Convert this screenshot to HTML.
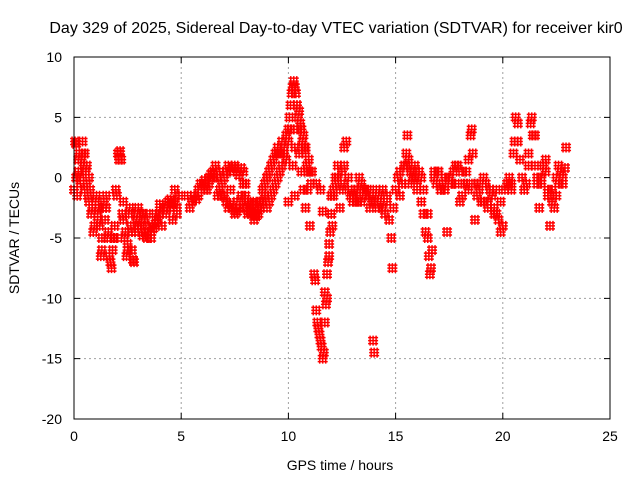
<!DOCTYPE html>
<html><head><meta charset="utf-8"><style>
body{margin:0;background:#fff;}
svg{display:block;font-family:"Liberation Sans",sans-serif;}
</style></head><body>
<svg id="chart" width="640" height="480">
<text x="336" y="33" text-anchor="middle" font-size="16">Day 329 of 2025, Sidereal Day-to-day VTEC variation (SDTVAR) for receiver kir0</text>
<text x="340" y="470" text-anchor="middle" font-size="14">GPS time / hours</text>
<text transform="translate(19,238) rotate(-90)" text-anchor="middle" font-size="14">SDTVAR / TECUs</text>
<g id="grid"></g><g id="marks"></g>
<rect x="74" y="57" width="536" height="362" fill="none" stroke="#000" stroke-width="1"/>
</svg>
<script>
const xTicks=[0,5,10,15,20,25];
const yTicks=[10,5,0,-5,-10,-15,-20];
const hours=[0,0.05,0.1,0.15,0.2,0.25,0.3,0.35,0.4,0.45,0.5,0.55,0.6,0.65,0.7,0.75,0.8,0.85,0.9,0.95,1.0,1.05,1.1,1.15,1.2,1.25,1.3,1.35,1.4,1.45,1.5,1.55,1.6,1.65,1.7,1.75,1.8,1.85,1.9,1.95,2.0,2.05,2.1,2.15,2.2,2.25,2.3,2.35,2.4,2.45,2.5,2.55,2.6,2.65,2.7,2.75,2.8,2.85,2.9,2.95,3.0,3.1,3.2,3.3,3.4,3.5,3.6,3.7,3.8,3.9,4.0,4.1,4.2,4.3,4.4,4.5,4.6,4.7,4.8,4.9,
5.5,5.6,5.7,5.8,5.9,6.0,6.1,6.2,6.3,6.4,6.5,6.6,6.7,6.8,6.9,7.0,7.1,7.2,7.3,7.4,7.5,7.6,7.7,7.8,7.9,8.0,
6.8,6.9,7.0,7.1,7.2,7.3,7.4,7.5,7.6,7.7,7.8,7.9,8.0,8.1,8.2,8.3,8.4,8.5,8.6,8.7,8.8,8.9,9.0,9.1,9.2,9.3,9.4,9.5,9.6,9.7,9.8,9.9,10.0,
8.0,8.1,8.2,8.3,8.4,8.5,8.6,8.7,8.8,8.9,9.0,9.1,9.2,9.3,9.4,9.5,9.6,9.7,9.8,9.9,10.0,10.05,10.1,10.15,10.2,10.25,10.3,10.35,10.4,10.45,10.5,10.55,10.6,10.65,10.7,10.75,10.8,10.85,10.9,10.95,11.0,11.05,11.1,
10.2,10.3,10.4,10.5,10.6,10.7,10.8,10.9,11.0,11.2,11.25,11.3,11.35,11.4,11.45,11.5,11.55,11.6,11.65,11.7,11.75,11.8,11.85,11.9,11.95,12.0,12.05,12.1,
11.6,11.7,11.8,11.9,12.0,12.1,12.2,12.3,12.4,12.5,12.6,12.7,12.8,12.9,13.0,13.1,13.2,13.3,13.4,13.5,13.6,13.7,13.8,13.9,14.0,14.1,14.2,14.3,14.4,14.5,14.6,14.7,14.8,14.85,14.9,13.95,14.0,
15.0,15.1,15.2,15.3,15.4,15.5,15.55,15.6,15.7,15.8,15.9,16.0,16.1,16.2,16.3,16.4,16.5,16.55,16.6,16.65,16.7,16.8,16.9,17.0,17.1,17.2,17.3,17.4,17.5,17.6,17.7,17.8,17.9,18.0,18.1,18.2,18.3,18.4,18.5,18.55,18.6,18.7,18.8,18.9,19.0,19.1,19.2,19.3,19.4,19.5,19.6,19.7,19.8,19.9,20.0,
20.1,20.2,20.3,20.4,20.5,20.55,20.6,20.7,20.8,20.9,21.0,21.1,21.2,21.3,21.35,21.4,21.5,21.6,21.7,21.8,21.9,22.0,22.1,22.2,22.3,22.4,22.5,22.6,22.7,22.8,22.9,22.95,
15.2,15.6,15.9,16.2,16.5,17.0,17.3,17.8,18.3,18.7,19.3,19.7,20.4,21.0,21.6,22.1,22.6,10.0,10.3,11.3,11.5,12.3,12.6,13.2,19.9,
0.1,0.2,0.3,0.4,0.5,0.6,0.7,1.1,1.3,1.5,1.9,2.3,2.5,2.7,3.0,3.2,3.4,3.6,3.8,4.0,4.2,4.4,4.6,4.8,4.7,4.5,3.9,3.3,
5.3,5.4,5.8,6.1,6.3,6.5,6.7,7.0,7.3,7.6,7.9,8.2,8.5,8.8,9.0,9.2,9.5,9.8,10.1,10.4,10.6,10.8,
12.0,12.2,12.4,12.6,12.8,13.0,13.2,13.4,13.6,13.8,14.0,14.2,14.4,14.6,
15.3,15.5,15.7,16.0,16.3,16.8,17.1,17.6,18.1,18.4,18.8,19.1,19.4,19.6,20.3,20.7,21.2,21.5,21.8,22.0,22.3,22.5,22.8];
const values=[-1,3,2.8,-1.5,0.5,2,-0.5,1.5,3,1,2,0.5,-0.5,-1.5,-2,-1,-3,-2.5,-4.5,-4,-2,-1.5,-3,-2.5,-4,-6.5,-6,-2.5,-2,-3.5,-1.5,-5,-4.5,-6.5,-7,-7.5,-6,-5,-4,-1,-1.5,2,1.5,2.2,1.5,-3,-3.5,-5,-4.5,-6.5,-6,-3,-2.5,-4,-6,-6.8,-7,-4.5,-3.5,-3,-2.5,-4,-4.8,-3.5,-5,-4,-4.5,-4.2,-3,-3.5,-2.2,-4,-2.5,-3,-2,-1.8,-3.5,-1,-2.5,-1.5,
-2,-1.5,-1.8,-1,-0.5,-0.5,-0.2,-1,0,0.3,0.5,1,0,0.5,-0.5,0,0.5,1,0.5,0.8,1,0.5,0.2,0.8,0.5,-0.5,
-1,-1.5,-1.5,-2,-2.5,-2.2,-2.5,-3,-2.8,-2.5,-1.5,-0.5,-2,-3,-2.8,-3,-3.5,-3.2,-3,-2.5,-2,-1.5,-2.5,-2,-1.5,-1,-0.5,0,0.5,1,2,1.5,3,
-1.5,-2,-2.5,-2.2,-3,-3,-2.5,-2,-1,-0.5,0,0.5,1,1.5,2,2.5,2,3,2.5,3.5,4,5,6,7,7.5,8,7.5,7,6,5,5.5,4.5,4,3,3.5,2.5,2,1,0.5,1.5,0.5,-0.5,0.5,
1,2.5,4,2,0.5,-1,-2.5,-1,-4,-8,-8.5,-11,-12,-12.5,-13,-13.5,-14,-15,-14.5,-12,-10.5,-8,-7,-5.5,-4.5,-3,-4,-1,
-2.8,-9.5,-10,-6.5,-3,-1.5,0,1,-1,0.5,2.5,3,0,-1.5,-2,-1,-1.5,0,-0.5,-1,-1.5,-1,-2.5,-2,-2,-1,-1.5,-2,-2.5,-3,-1.5,-3.5,-5,-7.5,-2.5,-13.5,-14.5,
-1,0,0.5,-0.5,1,2,3.5,1.5,0.5,0,1,-0.5,0.5,0,-3,-4.5,-5,-6.5,-8,-7.5,-6,0,-0.5,0.5,-1,-0.5,0,-4.5,0,-0.5,0.5,-0.5,1,-2,-1.5,-0.5,0.5,1.5,3.5,4,2,-0.5,-1.5,-1,-2,0,-0.5,-2.5,-1,-1.5,-2.5,-3,-3.5,-4.5,-4,
-1,-0.5,0,-1,2,3,5,4.5,1.5,0,-1,-0.5,2,4.5,5,3.5,1,-0.5,-2.5,-0.5,1,1.5,-1.5,-4,-1,-2.5,0,1,0.5,-0.5,0.8,2.5,
-1.5,-0.5,0,-2,-3,0.5,-1,1,-0.5,-3.5,-2,-1,-0.5,-1,0,-1,-0.5,-2,-1.5,-0.5,-1,0,-0.5,-1,-2,
0,1.5,0,2,-1,1,0,-3.5,-5,-2.5,-5,-2,-5.5,-4.5,-4,-3,-3,-5,-3.8,-3,-2.5,-2,-2.2,-3,-2,-2.5,-3.5,-4.5,
-1.5,-2.5,-1.5,-1,-0.5,0,-1.5,-1.5,-1,-2,-2.5,-2.5,-2,-1,0,1,2,2,4,6,4,2.5,
-1.5,-0.5,-2.5,1,-1,-1.5,-2,-2,-1,-1.5,-2,-2.5,-1,-2,
-0.5,1,0.5,-1,-1,0.5,-1,-0.5,0.5,-1,-0.5,-2,-1,-3,-0.5,3,1,3.5,0,0.5,-2,-1.5,0];
const X0=74,X1=610,Y0=419,Y1=57;
function xs(h){return X0+(h-0)/(25-0)*(X1-X0);}
function ys(v){return Y0-(v+20)/(10+20)*(Y0-Y1);}
const NS='http://www.w3.org/2000/svg';
const svg=document.getElementById('chart');
const grid=document.getElementById('grid');
const marks=document.getElementById('marks');
function mk(tag,at,parent){const e=document.createElementNS(NS,tag);for(const k in at)e.setAttribute(k,at[k]);parent.appendChild(e);return e;}
xTicks.forEach(t=>{
  const x=xs(t);
  if(t>0&&t<25){const g=mk('line',{x1:x,x2:x,y1:Y1,y2:Y0,stroke:'#a0a0a0','stroke-dasharray':'2,3'},grid);
  
  }
  const tk=mk('path',{d:`M${x},${Y0}v-6M${x},${Y1}v6`,stroke:'#000'},grid);
  
  
  const l=mk('text',{x:x,y:Y0+22,'text-anchor':'middle','font-size':14},svg);
  l.textContent=t;
  
  
});
yTicks.forEach(t=>{
  const y=ys(t);
  if(t>-20&&t<10){const g=mk('line',{x1:X0,x2:X1,y1:y,y2:y,stroke:'#a0a0a0','stroke-dasharray':'2,3'},grid);
  
  }
  const tk=mk('path',{d:`M${X0},${y}h6M${X1},${y}h-6`,stroke:'#000'},grid);
  
  
  const l=mk('text',{x:X0-12,y:y+5,'text-anchor':'end','font-size':14},svg);
  l.textContent=t;
  
  
});
hours.forEach((h,i)=>{
  const x=xs(h),y=ys(values[i]);
  const p=mk('path',{d:`M${x-5},${y}h10M${x},${y-5}v10M${x-5},${y+3}h10M${x+3},${y-5}v10M${x-5},${y-3}h10M${x-3},${y-5}v10`,stroke:'#ff0000','stroke-width':1.5,fill:'none'},marks);
  
  
});
</script>
</body></html>
